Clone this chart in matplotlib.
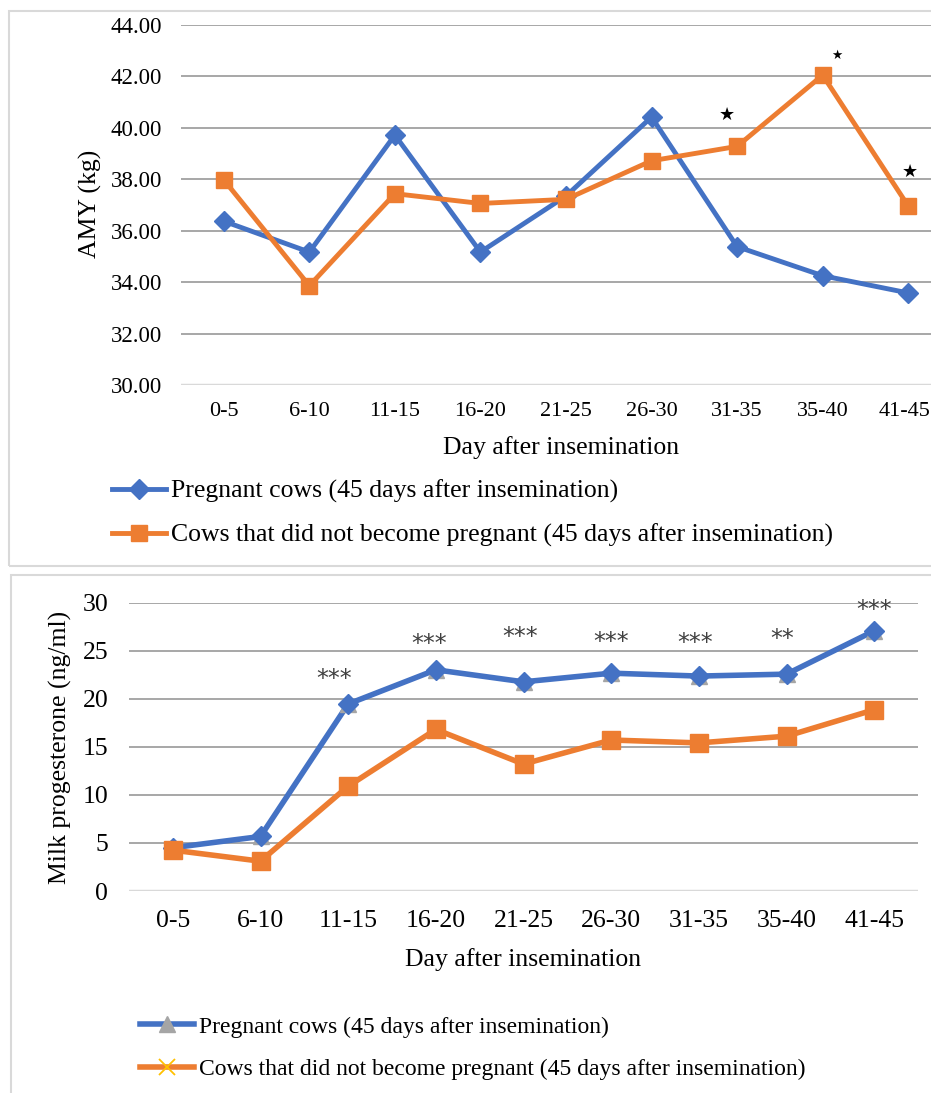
import matplotlib
matplotlib.use("Agg")
import matplotlib.pyplot as plt
from matplotlib.lines import Line2D
from matplotlib.patches import Rectangle
import matplotlib.transforms as mtrans

plt.rcParams['font.family'] = ['Liberation Serif', 'DejaVu Sans']

categories = ["0-5", "6-10", "11-15", "16-20", "21-25", "26-30", "31-35", "35-40", "41-45"]

# Top panel: AMY (kg)
amy_pregnant = [36.37, 35.17, 39.72, 35.17, 37.35, 40.42, 35.38, 34.25, 33.58]
amy_nonpreg = [37.98, 33.86, 37.44, 37.06, 37.22, 38.72, 39.28, 42.05, 36.96]
amy_yticks = [30.0, 32.0, 34.0, 36.0, 38.0, 40.0, 42.0, 44.0]
amy_star_x = [5.88, 7.16, 8.02]
amy_star_y = [40.5, 42.83, 38.3]
amy_star_size = [13, 9, 13]

# Bottom panel: Milk progesterone (ng/ml)
p4_pregnant = [4.5, 5.67, 19.45, 23.0, 21.75, 22.65, 22.35, 22.55, 27.05]
p4_nonpreg = [4.25, 3.1, 10.9, 16.8, 13.2, 15.7, 15.4, 16.1, 18.85]
p4_yticks = [0, 5, 10, 15, 20, 25, 30]
p4_star_x = [1.84, 2.92, 3.96, 5.0, 5.96, 6.95, 8.0]
p4_star_y = [22.0, 25.7, 26.4, 25.9, 25.8, 26.2, 29.2]
p4_star_txt = ["***", "***", "***", "***", "***", "**", "***"]

series_labels = ["Pregnant cows (45 days after insemination)",
                 "Cows that did not become pregnant (45 days after insemination)"]

BLUE = "#4472C4"
ORANGE = "#ED7D31"
GRID = "#A0A0A0"
AXLINE = "#D9D9D9"

W, H = 931, 1093
fig = plt.figure(figsize=(W / 100, H / 100), dpi=100)

def fx(px):
    return px / W

def fy(py):
    return 1 - py / H

# panel borders
fig.patches.append(Rectangle((fx(9), fy(566)), fx(960 - 9), fy(11) - fy(566),
                             transform=fig.transFigure, fill=False,
                             edgecolor="#D9D9D9", lw=1.5))
fig.patches.append(Rectangle((fx(11), fy(1110)), fx(960 - 11), fy(575) - fy(1110),
                             transform=fig.transFigure, fill=False,
                             edgecolor="#D9D9D9", lw=1.5))

x = list(range(len(categories)))

# ---------------- Top axes ----------------
ax1 = fig.add_axes([fx(181), fy(385), fx(951 - 181), fy(25) - fy(385)])
ax1.set_xlim(-0.5, 8.5)
ax1.set_ylim(30, 44)
for v in amy_yticks[1:]:
    ax1.axhline(v, color=GRID, lw=1.3, zorder=0)
ax1.axhline(30, color=AXLINE, lw=2.5, zorder=0)
for s in ax1.spines.values():
    s.set_visible(False)
ax1.plot(x, amy_pregnant, color=BLUE, lw=3.5, marker="D", ms=10.5,
         mfc=BLUE, mec=BLUE, zorder=3)
ax1.plot(x, amy_nonpreg, color=ORANGE, lw=3.5, marker="s", ms=12,
         mfc=ORANGE, mec=ORANGE, zorder=3)
ax1.set_xticks(x)
ax1.set_xticklabels(categories, fontsize=16)
ax1.set_yticks(amy_yticks)
ax1.set_yticklabels([f"{v:.2f}" for v in amy_yticks], fontsize=16.5)
ax1.tick_params(axis="both", length=0)
ax1.tick_params(axis="y", pad=13.5)
ax1.tick_params(axis="x", pad=12)
# keep the last category label inside the figure edge
last = ax1.get_xticklabels()[-1]
last.set_transform(last.get_transform() +
                   mtrans.ScaledTranslation(-4 / 100, 0, fig.dpi_scale_trans))
for sx, sy, ss in zip(amy_star_x, amy_star_y, amy_star_size):
    ax1.text(sx, sy, "★", fontsize=ss, ha="center", va="center",
             color="black", family="DejaVu Sans")
fig.text(fx(561), fy(448), "Day after insemination", fontsize=18.5,
         ha="center", va="center")
fig.text(fx(90), fy(204), "AMY (kg)", fontsize=18.5, rotation=90,
         ha="center", va="center")
h1 = [Line2D([], [], color=BLUE, lw=3.5, marker="D", ms=10, mfc=BLUE, mec=BLUE),
      Line2D([], [], color=ORANGE, lw=3.5, marker="s", ms=11, mfc=ORANGE, mec=ORANGE)]
fig.legend(h1, series_labels, loc="upper left",
           bbox_to_anchor=(fx(112), fy(480)), frameon=False, fontsize=18.5,
           handlelength=2.1, handletextpad=0.2, labelspacing=0.8,
           borderpad=0, borderaxespad=0)

# ---------------- Bottom axes ----------------
ax2 = fig.add_axes([fx(129), fy(891), fx(918 - 129), fy(602.5) - fy(891)])
ax2.set_xlim(-0.5, 8.5)
ax2.set_ylim(0, 30)
for v in p4_yticks[1:]:
    ax2.axhline(v, color=GRID, lw=1.3, zorder=0)
ax2.axhline(0, color=AXLINE, lw=2.5, zorder=0)
for s in ax2.spines.values():
    s.set_visible(False)
ax2.plot(x, p4_pregnant, color=BLUE, lw=4, marker="^", ms=12,
         mfc="#A5A5A5", mec="#A5A5A5", zorder=3)
ax2.plot(x, p4_pregnant, ls="none", marker="D", ms=10,
         mfc=BLUE, mec=BLUE, zorder=4)
ax2.plot(x, p4_nonpreg, color=ORANGE, lw=4, marker="s", ms=12.5,
         mfc=ORANGE, mec=ORANGE, zorder=5)
ax2.set_xticks(x)
ax2.set_xticklabels(categories, fontsize=18.5)
ax2.set_yticks(p4_yticks)
ax2.set_yticklabels([str(v) for v in p4_yticks], fontsize=18.5)
ax2.tick_params(axis="both", length=0)
ax2.tick_params(axis="y", pad=15)
ax2.tick_params(axis="x", pad=14)
for sx, sy, st in zip(p4_star_x, p4_star_y, p4_star_txt):
    ax2.text(sx, sy, st, fontsize=17, ha="center", va="center",
             color="#404040", family="DejaVu Sans")
fig.text(fx(523), fy(960), "Day after insemination", fontsize=18.5,
         ha="center", va="center")
fig.text(fx(60), fy(747), "Milk progesterone (ng/ml)", fontsize=18.5,
         rotation=90, ha="center", va="center")
h2 = [Line2D([], [], color=BLUE, lw=4, marker="^", ms=11, mfc="#A5A5A5", mec="#A5A5A5"),
      Line2D([], [], color=ORANGE, lw=4, marker="x", ms=11, mec="#FFC000", mew=1.3)]
fig.legend(h2, series_labels, loc="upper left",
           bbox_to_anchor=(fx(140), fy(1016)), frameon=False, fontsize=17,
           handlelength=2.3, handletextpad=0.2, labelspacing=0.9,
           borderpad=0, borderaxespad=0)

fig.savefig("out.png", dpi=100)
